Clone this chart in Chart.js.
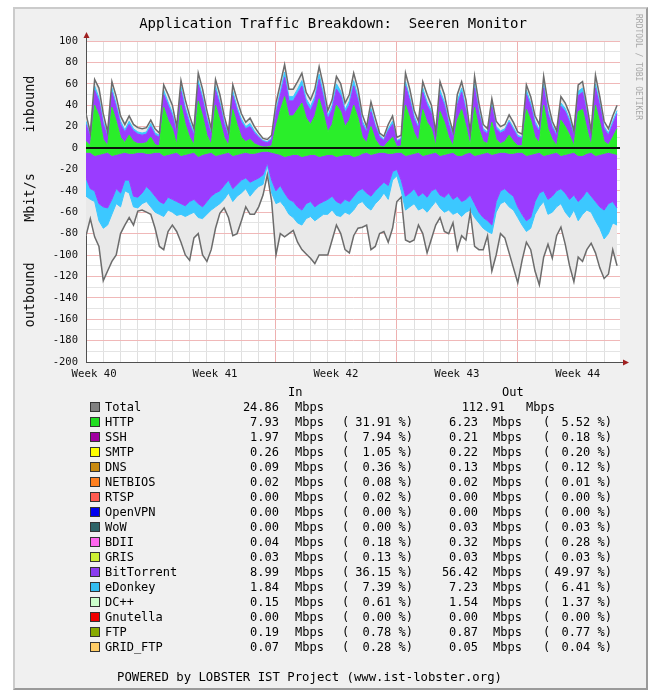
<!DOCTYPE html>
<html>
<head>
<meta charset="utf-8">
<script src="https://cdn.jsdelivr.net/npm/chart.js@4.4.0/dist/chart.umd.min.js"></script>
<style>
  body { margin: 0; background: #fff; width: 653px; height: 693px; overflow: hidden; font-family: 'DejaVu Sans Mono', monospace; }
  #frame { position: absolute; left: 13px; top: 7px; width: 631px; height: 679px; background: #f0f0f0;
           border-top: 2px solid #cbcbcb; border-left: 2px solid #cbcbcb; border-right: 2px solid #9a9a9a; border-bottom: 2px solid #9a9a9a; }
  #chart { position: absolute; left: 0; top: 0; }
  #title { position: absolute; left: 0; top: 15px; width: 666px; text-align: center; font-size: 14px; line-height: 16px; white-space: pre; color: #000; }
  #rrd { position: absolute; left: 634px; top: 14px; writing-mode: vertical-rl; font-size: 8px; color: #a8a8a8; white-space: pre; }
  #legend { position: absolute; left: 0; top: 0; width: 653px; height: 693px; }
  .t { position: absolute; font-size: 12px; line-height: 14px; white-space: pre; color: #000; }
  .box { position: absolute; width: 8px; height: 8px; border: 1px solid #333; }
</style>
</head>
<body>
<div id="frame"></div>
<canvas id="chart" width="653" height="390"></canvas>
<div id="title">Application Traffic Breakdown:  Seeren Monitor</div>
<div id="rrd">RRDTOOL / TOBI OETIKER</div>
<div id="legend"></div>
<script>
// one sample every 6 hours, x axis in days
var STEP = 0.25;

var weekLabels = ['Week 40', 'Week 41', 'Week 42', 'Week 43', 'Week 44'];
var weekPos = [0.47, 7.47, 14.47, 21.47, 28.47];
var majorDays = [11, 18, 25];

// inbound (Mbit/s)
var inTotal = [32,14,64,56, 32,15,62,48, 30,22,30,22, 19,18,19,26, 18,14,59,50, 40,20,63,45,
  30,18,70,55, 35,18,64,50, 30,15,59,45, 32,24,28,20, 14,9,8,12, 42,60,78,55, 55,62,70,52,
  45,55,76,58, 35,45,67,60, 42,50,70,55, 31,20,43,28, 14,11,22,30, 10,12,70,55, 35,25,62,50,
  40,15,62,50, 30,15,50,62, 45,15,67,42, 22,18,46,25, 20,22,31,24, 15,13,59,48, 30,22,67,42,
  25,16,48,42, 32,16,59,62, 40,16,68,48, 25,18,30,40];
var inHttp = [6,2,40,30, 8,2,38,25, 10,5,12,6, 4,4,5,10, 3,2,38,26, 18,3,40,22,
  10,3,44,30, 12,3,40,26, 10,2,36,22, 10,6,8,4, 2,1,1,2, 20,35,48,30, 30,36,42,28,
  22,30,46,32, 15,22,40,34, 20,26,40,28, 10,5,20,8, 2,1,6,10, 1,2,40,28, 14,6,36,24,
  18,2,34,24, 10,2,26,36, 20,2,38,18, 6,4,24,8, 4,6,12,6, 2,2,36,26, 10,5,40,18,
  8,2,26,20, 12,2,34,36, 18,2,40,24, 6,3,10,18];
var inBt = [16,8,14,14, 14,8,14,13, 12,10,10,10, 9,8,8,10, 9,8,12,14, 12,10,13,13,
  12,9,15,15, 14,9,14,14, 12,8,13,13, 14,12,12,10, 8,5,4,6, 12,14,18,14, 14,15,16,14,
  13,14,18,15, 12,14,15,15, 13,14,18,16, 12,10,14,12, 8,6,10,12, 5,6,18,16, 13,12,16,16,
  14,8,16,16, 12,8,14,16, 14,8,18,14, 10,9,14,10, 10,10,12,11, 8,7,14,13, 12,10,16,14,
  11,9,13,14, 12,9,15,16, 14,9,16,15, 12,9,12,14];
var inEd = [3,2,4,3, 3,2,4,3, 3,2,3,2, 2,2,2,3, 2,2,4,3, 3,2,4,3,
  3,2,4,3, 3,2,4,3, 3,2,4,3, 3,2,3,2, 1,1,1,1, 3,4,5,4, 4,4,5,4,
  4,4,5,4, 3,4,5,4, 3,4,5,4, 3,2,3,2, 2,1,2,3, 1,1,4,3, 3,2,4,3,
  3,2,4,3, 3,2,4,4, 3,2,4,3, 2,2,3,2, 2,2,2,2, 2,1,4,3, 3,2,4,3,
  2,2,3,3, 3,2,4,4, 3,2,4,3, 2,2,3,3];

// outbound (Mbit/s, drawn below zero)
var outTotal = [-82,-66,-83,-92, -124,-115,-106,-100, -80,-72,-65,-72, -59,-58,-60,-62,
  -75,-92,-95,-78, -72,-78,-88,-100, -105,-84,-80,-100, -106,-95,-75,-61, -56,-65,-82,-80,
  -68,-55,-62,-62, -55,-44,-25,-50, -100,-80,-83,-80, -77,-88,-95,-99, -103,-108,-100,-100,
  -100,-86,-72,-80, -95,-98,-82,-75, -74,-72,-95,-92, -80,-78,-88,-75, -50,-46,-86,-88,
  -86,-72,-80,-98, -85,-72,-65,-78, -80,-70,-95,-82, -86,-60,-92,-95, -95,-82,-115,-100,
  -80,-84,-98,-112, -126,-105,-88,-95, -115,-128,-102,-90, -103,-82,-74,-90, -110,-125,-102,-106,
  -95,-89,-98,-112, -122,-118,-95,-110];
var outHttp = [-4,-4,-7,-6, -5,-4,-7,-6, -5,-4,-5,-5, -4,-4,-5,-5, -4,-4,-7,-6, -5,-4,-7,-6,
  -5,-4,-8,-6, -5,-4,-7,-6, -5,-4,-7,-6, -5,-4,-5,-5, -4,-3,-3,-4, -5,-6,-8,-7, -6,-6,-8,-7,
  -6,-6,-8,-7, -6,-6,-8,-7, -6,-6,-8,-7, -5,-4,-6,-5, -4,-4,-5,-5, -4,-4,-7,-6, -5,-4,-7,-6,
  -5,-4,-7,-6, -5,-4,-7,-7, -5,-4,-7,-6, -5,-4,-6,-5, -4,-4,-5,-5, -4,-4,-7,-6, -5,-4,-7,-6,
  -5,-4,-7,-6, -5,-4,-7,-7, -5,-4,-7,-6, -5,-4,-5,-6];
var outBt = [-24,-34,-33,-46, -50,-52,-41,-32, -37,-26,-25,-40, -42,-38,-31,-35, -41,-46,-45,-40,
  -43,-46,-45,-48, -45,-44,-44,-49, -45,-41,-35,-34, -30,-26,-31,-28, -25,-24,-27,-25,
  -24,-22,-11,-26, -35,-29,-34,-41, -44,-49,-50,-45, -44,-49,-44,-43, -42,-39,-42,-45,
  -42,-44,-37,-33, -33,-38,-39,-35, -32,-28,-30,-17, -16,-26,-38,-36, -33,-41,-35,-40,
  -35,-34,-37,-40, -37,-44,-38,-43, -43,-40,-45,-54, -60,-64,-66,-45, -36,-34,-37,-40,
  -51,-58,-61,-59, -45,-38,-33,-42, -40,-36,-31,-36, -43,-40,-43,-39, -35,-41,-43,-49,
  -53,-48,-45,-50];
var outEd = [-17,-10,-10,-16, -20,-16,-14,-14, -13,-10,-12,-10, -10,-10,-14,-15, -15,-12,-12,-12,
  -12,-13,-10,-10, -12,-12,-13,-11, -12,-13,-13,-12, -13,-12,-12,-11, -12,-10,-13,-10,
  -8,-9,-2,-12, -12,-15,-13,-14, -15,-15,-14,-14, -14,-13,-13,-12, -14,-13,-13,-12,
  -12,-12,-13,-12, -12,-13,-13,-12, -12,-10,-13,-8, -6,-10,-13,-13, -14,-13,-14,-14,
  -15,-12,-12,-14, -16,-14,-15,-14, -12,-14,-13,-10, -10,-10,-8,-10, -12,-12,-13,-13,
  -10,-10,-10,-10, -12,-13,-10,-14, -15,-15,-14,-18, -17,-14,-18,-16, -18,-15,-18,-20,
  -27,-28,-20,-16];

// legend table
var names  = ['HTTP','SSH','SMTP','DNS','NETBIOS','RTSP','OpenVPN','WoW','BDII','GRIS','BitTorrent','eDonkey','DC++','Gnutella','FTP','GRID_FTP'];
var colors = ['#22dd22','#a000a0','#ffff00','#c88a10','#ff8020','#ff5a50','#0000ee','#2e6468','#ff66ee','#ccee33','#8a3cf0','#33bbee','#ccffcc','#ee0000','#88aa00','#ffcc66'];
var inVals  = ['7.93','1.97','0.26','0.09','0.02','0.00','0.00','0.00','0.04','0.03','8.99','1.84','0.15','0.00','0.19','0.07'];
var inPct   = ['31.91','7.94','1.05','0.36','0.08','0.02','0.00','0.00','0.18','0.13','36.15','7.39','0.61','0.00','0.78','0.28'];
var outVals = ['6.23','0.21','0.22','0.13','0.02','0.00','0.00','0.03','0.32','0.03','56.42','7.23','1.54','0.00','0.87','0.05'];
var outPct  = ['5.52','0.18','0.20','0.12','0.01','0.00','0.00','0.03','0.28','0.03','49.97','6.41','1.37','0.00','0.77','0.04'];
var totalIn = '24.86', totalOut = '112.91';

var C_HTTP = '#2aee2a', C_BT = '#9a3cff', C_ED = '#3cc8ff', C_BG = '#e9e9e9', C_TOT = '#6c6c6c';

var xs = inTotal.map(function (v, i) { return i * STEP; });
function pts(arr) { return arr.map(function (v, i) { return { x: xs[i], y: v }; }); }
function area(label, arr, color, stack, fill) {
  return { label: label, data: pts(arr), stack: stack, fill: fill, backgroundColor: color,
           borderColor: color, borderWidth: 1, pointRadius: 0, tension: 0 };
}
function line(label, arr, stack) {
  return { label: label, data: pts(arr), stack: stack, fill: false, borderColor: C_TOT,
           borderWidth: 1.5, pointRadius: 0, tension: 0 };
}

var decor = {
  id: 'decor',
  beforeDraw: function (chart) {
    var ctx = chart.ctx, a = chart.chartArea;
    ctx.save();
    ctx.fillStyle = '#ffffff';
    ctx.fillRect(a.left, a.top, a.right - a.left, a.bottom - a.top);
    ctx.restore();
  },
  afterDatasetsDraw: function (chart) {
    var ctx = chart.ctx, a = chart.chartArea, y0 = chart.scales.y.getPixelForValue(0);
    ctx.save();
    ctx.strokeStyle = '#0c140c';
    ctx.lineWidth = 2;
    ctx.beginPath(); ctx.moveTo(a.left, y0); ctx.lineTo(a.right, y0); ctx.stroke();
    // axis arrows
    ctx.lineWidth = 1;
    ctx.strokeStyle = '#505050';
    ctx.beginPath(); ctx.moveTo(a.left + 0.5, a.top); ctx.lineTo(a.left + 0.5, a.top - 5); ctx.stroke();
    ctx.beginPath(); ctx.moveTo(a.right, a.bottom + 0.5); ctx.lineTo(a.right + 5, a.bottom + 0.5); ctx.stroke();
    ctx.fillStyle = '#a02020';
    ctx.beginPath(); ctx.moveTo(a.left + 0.5, a.top - 9); ctx.lineTo(a.left - 2.5, a.top - 3); ctx.lineTo(a.left + 3.5, a.top - 3); ctx.closePath(); ctx.fill();
    ctx.beginPath(); ctx.moveTo(a.right + 9, a.bottom + 0.5); ctx.lineTo(a.right + 3, a.bottom - 2.5); ctx.lineTo(a.right + 3, a.bottom + 3.5); ctx.closePath(); ctx.fill();
    ctx.restore();
  }
};

Chart.defaults.font.family = "'DejaVu Sans Mono', monospace";
Chart.defaults.color = '#111';

new Chart(document.getElementById('chart').getContext('2d'), {
  type: 'line',
  data: {
    datasets: [
      line('Total in', inTotal, 'tin'),
      line('Total out', outTotal, 'tout'),
      area('HTTP in', inHttp, C_HTTP, 'in', 'origin'),
      area('BitTorrent in', inBt, C_BT, 'in', '-1'),
      area('eDonkey in', inEd, C_ED, 'in', '-1'),
      area('HTTP out', outHttp, C_HTTP, 'out', 'origin'),
      area('BitTorrent out', outBt, C_BT, 'out', '-1'),
      area('eDonkey out', outEd, C_ED, 'out', '-1'),
      area('Total in area', inTotal, C_BG, 'gin', 'origin'),
      area('Total out area', outTotal, C_BG, 'gout', 'origin')
    ]
  },
  options: {
    responsive: false,
    animation: false,
    devicePixelRatio: 1,
    layout: { padding: { left: 13, top: 41, right: 33, bottom: 0 } },
    plugins: { legend: { display: false }, tooltip: { enabled: false } },
    scales: {
      x: {
        type: 'linear', min: 0, max: 30.92,
        afterBuildTicks: function (s) {
          var t = [];
          for (var d = 0; d <= 30; d++) t.push({ value: d });
          weekPos.forEach(function (p) { t.push({ value: p }); });
          t.sort(function (a, b) { return a.value - b.value; });
          s.ticks = t;
        },
        afterFit: function (s) { s.height = 28; },
        ticks: {
          autoSkip: false, maxRotation: 0, minRotation: 0, padding: 6,
          font: { size: 10.7 }, color: '#111',
          callback: function (v) { var i = weekPos.indexOf(v); return i >= 0 ? weekLabels[i] : ''; }
        },
        grid: {
          drawTicks: false,
          color: function (c) {
            var v = c.tick.value;
            if (weekPos.indexOf(v) >= 0) return 'rgba(0,0,0,0)';
            return majorDays.indexOf(v) >= 0 ? '#eeb0b0' : '#e0e0e0';
          }
        },
        border: { color: '#505050' }
      },
      y: {
        type: 'linear', min: -200, max: 100, stacked: true,
        afterFit: function (s) { s.width = 73; },
        ticks: {
          stepSize: 10, autoSkip: false, padding: 8, font: { size: 10.5 }, color: '#111',
          callback: function (v) { return v % 20 === 0 ? String(v) : ''; }
        },
        grid: {
          drawTicks: false,
          color: function (c) { return c.tick.value % 20 === 0 ? '#f0b8b8' : '#e4e4e4'; }
        },
        border: { color: '#505050' },
        title: { display: true, text: 'outbound     Mbit/s     inbound', font: { size: 13.5 }, color: '#111', padding: { top: 9, bottom: 0 } }
      }
    }
  },
  plugins: [decor]
});

// legend below the graph
var lg = document.getElementById('legend');
function put(text, x, y, right, size) {
  var s = document.createElement('div');
  s.className = 't';
  s.textContent = text;
  if (right) s.style.right = (653 - x) + 'px'; else s.style.left = x + 'px';
  s.style.top = (y - 7) + 'px';
  if (size) s.style.fontSize = size + 'px';
  lg.appendChild(s);
}
function box(color, y) {
  var b = document.createElement('div');
  b.className = 'box';
  b.style.left = '90px';
  b.style.top = (y - 5) + 'px';
  b.style.background = color;
  lg.appendChild(b);
}
put('In', 288, 392);
put('Out', 502, 392);
box('#808080', 407);
put('Total', 105, 407);
put(totalIn, 279, 407, true);
put('Mbps', 295, 407);
put(totalOut, 505, 407, true);
put('Mbps', 526, 407);
names.forEach(function (n, i) {
  var y = 422 + 15 * i;
  box(colors[i], y);
  put(n, 105, y);
  put(inVals[i], 279, y, true);
  put('Mbps', 295, y);
  put('(', 342, y);
  put(inPct[i] + ' %)', 413, y, true);
  put(outVals[i], 478, y, true);
  put('Mbps', 493, y);
  put('(', 543, y);
  put(outPct[i] + ' %)', 612, y, true);
});
put('POWERED by LOBSTER IST Project (www.ist-lobster.org)', 117, 677, false, 12.3);
</script>
</body>
</html>
